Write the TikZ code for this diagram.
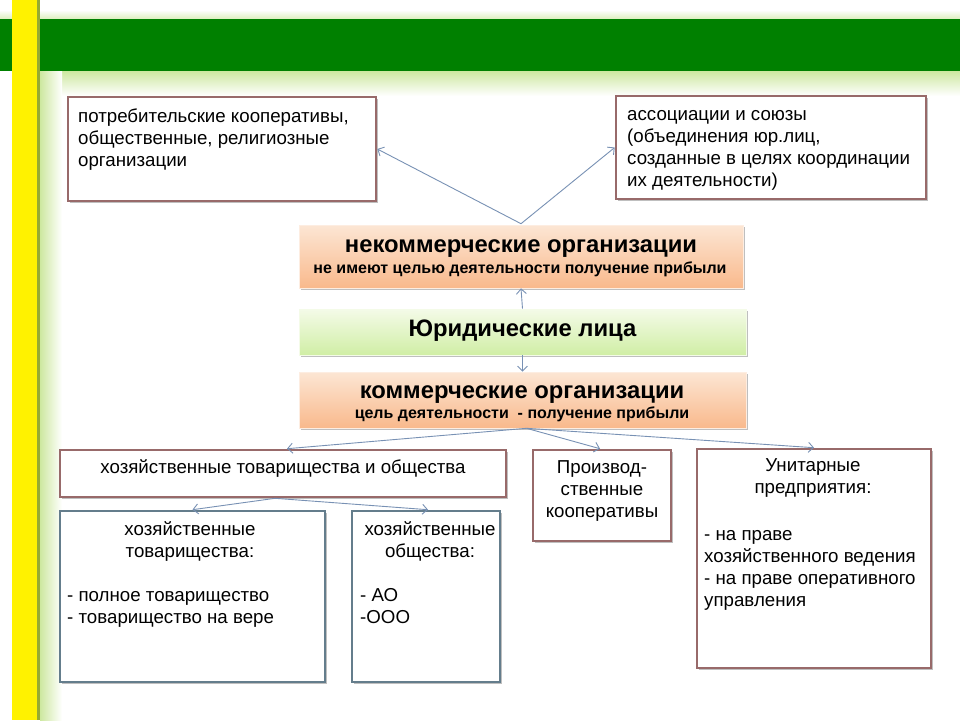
\documentclass[tikz,border=0pt]{standalone}
\usepackage{fontspec}
\setmainfont{Liberation Sans}
\usetikzlibrary{arrows.meta,shadows}
\definecolor{brownb}{RGB}{152,106,106}
\definecolor{blueb}{RGB}{100,125,140}
\definecolor{arrowc}{RGB}{120,145,180}
\definecolor{bandgreen}{RGB}{0,128,0}
\definecolor{glowgreen}{RGB}{205,232,160}
\definecolor{olive}{RGB}{150,170,50}
\definecolor{orTop}{RGB}{252,230,212}
\definecolor{orBot}{RGB}{249,185,140}
\definecolor{grTop}{RGB}{244,251,232}
\definecolor{grBot}{RGB}{208,238,165}
\begin{document}
\begin{tikzpicture}[x=1pt,y=-1pt,
  shad/.style={drop shadow={shadow xshift=2pt,shadow yshift=-2pt,opacity=.25,fill=black}},
  brownbox/.style={draw=brownb,line width=2.6pt,fill=white,shad,inner sep=0pt},
  bluebox/.style={draw=blueb,line width=2.6pt,fill=white,shad,inner sep=0pt},
  orbox/.style={top color=orTop,bottom color=orBot,draw=orTop!70!white,line width=0.6pt,shad,inner sep=0pt},
  grbox/.style={top color=grTop,bottom color=grBot,draw=grTop,line width=0.6pt,shad,inner sep=0pt},
  txt/.style={inner sep=0pt,font=\fontsize{18.7}{22}\selectfont},
  ttl/.style={inner sep=0pt,font=\bfseries\fontsize{23.8}{26}\selectfont},
  sub/.style={inner sep=0pt,font=\bfseries\fontsize{16}{18}\selectfont},
  conn/.style={draw=arrowc,line width=0.9pt,-{Straight Barb[length=5pt,width=10pt]}}
]
\useasboundingbox (0,0) rectangle (960,720);
\fill[white] (0,0) rectangle (960,720);
% background decoration
\shade[top color=white,bottom color=glowgreen!70!white] (0,10) rectangle (960,19);
\fill[bandgreen] (0,19) rectangle (960,71);
\shade[top color=glowgreen,bottom color=white] (40,71) rectangle (960,96);
\shade[left color=glowgreen,right color=white] (40,71) rectangle (62,720);
\fill[yellow] (12,0) rectangle (37,720);
\fill[olive] (37,0) rectangle (40,720);

% boxes
\node[brownbox,minimum width=308,minimum height=104] (b1) at (222,149) {};
\node[brownbox,minimum width=310,minimum height=103] (b2) at (771,147.5) {};
\node[orbox,minimum width=444,minimum height=63] (nk) at (521,256.5) {};
\node[grbox,minimum width=447,minimum height=46] (yl) at (522.5,332) {};
\node[orbox,minimum width=447,minimum height=56] (km) at (522.5,400) {};
\node[brownbox,minimum width=446,minimum height=47] (ht) at (283,473.5) {};
\node[brownbox,minimum width=138,minimum height=91] (pk) at (602,495.5) {};
\node[brownbox,minimum width=234,minimum height=219] (up) at (814,558.5) {};
\node[bluebox,minimum width=265,minimum height=171] (tv) at (192.5,596.5) {};
\node[bluebox,minimum width=148,minimum height=171] (ob) at (426,596.5) {};

% texts
\node[txt,anchor=north west,align=left] (t1) at (78,106.6)
  {\strut потребительские кооперативы,\\общественные, религиозные\\организации};
\node[txt,anchor=north west,align=left] (t2) at (627,104.6)
  {\strut ассоциации и союзы\\(объединения юр.лиц,\\созданные в целях координации\\их деятельности)};
\node[ttl,anchor=base] (nkt) at (521,252) {некоммерческие организации};
\node[sub,anchor=base] (nks) at (520,273.3) {не имеют целью деятельности получение прибыли};
\node[ttl,anchor=base] (ylt) at (522.5,336) {Юридические лица};
\node[ttl,anchor=base] (kmt) at (522,398.3) {коммерческие организации};
\node[sub,anchor=base] (kms) at (522,418.3) {цель деятельности~~- получение прибыли};
\node[txt,anchor=base] (htt) at (283,473.3) {хозяйственные товарищества и общества};
\node[txt,anchor=north,align=center] (pkt) at (602,457.9) {\strut Производ-\\ственные\\кооперативы};
\node[txt,anchor=north,align=center] (upt) at (813,456.3) {\strut Унитарные\\предприятия:};
\node[txt,anchor=north west,align=left] (upl) at (704,524.6)
  {\strut - на праве\\хозяйственного ведения\\- на праве оперативного\\управления};
\node[txt,anchor=north,align=center] (tvt) at (190,519.6) {\strut хозяйственные\\товарищества:};
\node[txt,anchor=north west,align=left] (tvl) at (67,586.3) {\strut - полное товарищество\\- товарищество на вере};
\node[txt,anchor=north,align=center] (obt) at (430,519.6) {\strut хозяйственные\\общества:};
\node[txt,anchor=north west,align=left] (obl) at (360,586.3) {\strut - АО\\-ООО};

% connectors
\coordinate (nkTop) at ([yshift=1pt]nk.north);
\draw[conn] (nkTop) -- (b1.east);
\draw[conn] (nkTop) -- (b2.west);
\draw[conn] (yl.north) -- (nk.south);
\draw[conn] (yl.south) -- (km.north);
\coordinate (kmBot) at ([xshift=4pt]km.south);
\draw[conn] (kmBot) -- ([xshift=4pt]ht.north);
\draw[conn] (kmBot) -- ([xshift=-2pt]pk.north);
\draw[conn] (kmBot) -- (up.north);
\coordinate (htBot) at ([xshift=-8pt]ht.south);
\draw[conn] (htBot) -- (tv.north);
\draw[conn] (htBot) -- ([xshift=2pt]ob.north);
\end{tikzpicture}
\end{document}
